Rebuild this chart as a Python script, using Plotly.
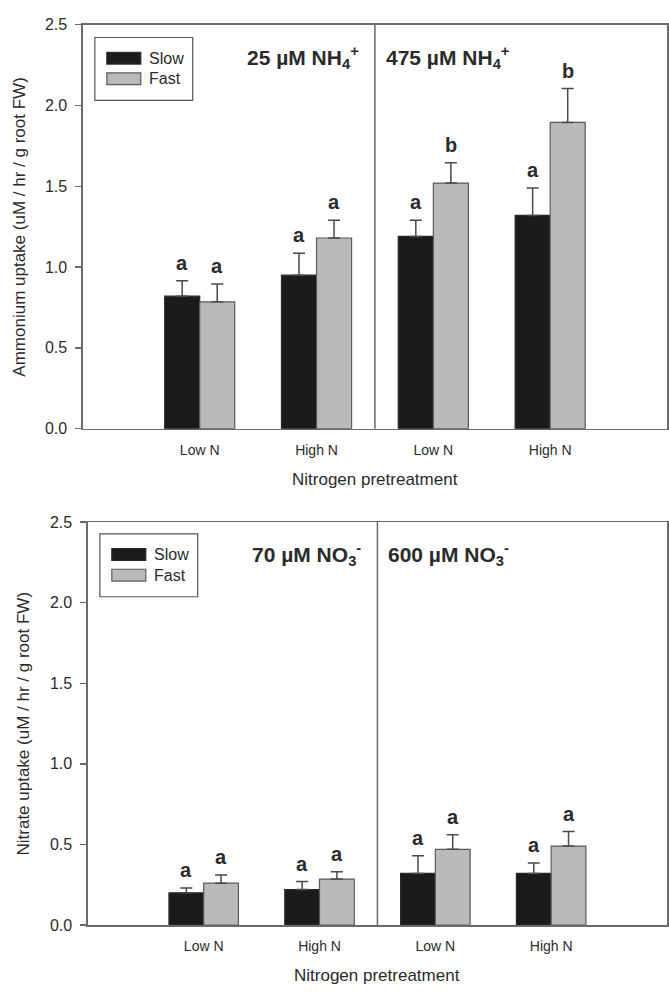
import plotly.graph_objects as go

# ---------------- data ----------------
categories = ["Low N", "High N", "Low N", "High N"]
series_names = ["Slow", "Fast"]

# Ammonium uptake (top panel)
nh4_slow = [0.82, 0.95, 1.19, 1.32]
nh4_slow_err = [0.095, 0.135, 0.10, 0.17]
nh4_fast = [0.785, 1.18, 1.52, 1.895]
nh4_fast_err = [0.11, 0.11, 0.125, 0.21]
nh4_slow_letters = ["a", "a", "a", "a"]
nh4_fast_letters = ["a", "a", "b", "b"]

# Nitrate uptake (bottom panel)
no3_slow = [0.20, 0.22, 0.32, 0.32]
no3_slow_err = [0.03, 0.05, 0.11, 0.065]
no3_fast = [0.26, 0.285, 0.47, 0.49]
no3_fast_err = [0.05, 0.045, 0.09, 0.09]
no3_slow_letters = ["a", "a", "a", "a"]
no3_fast_letters = ["a", "a", "a", "a"]

panel_labels_top = ["25 \u00b5M NH<sub>4</sub><sup>+</sup>", "475 \u00b5M NH<sub>4</sub><sup>+</sup>"]
panel_labels_bot = ["70 \u00b5M NO<sub>3</sub><sup>-</sup>", "600 \u00b5M NO<sub>3</sub><sup>-</sup>"]
y_titles = ["Ammonium uptake (uM / hr / g root FW)", "Nitrate uptake (uM / hr / g root FW)"]
x_title = "Nitrogen pretreatment"
y_ticks = [0.0, 0.5, 1.0, 1.5, 2.0, 2.5]

# ---------------- style ----------------
FONT = "Liberation Sans, Arial, Helvetica, sans-serif"
SLOW_FILL = "#1c1a1b"
SLOW_LINE = "#2a2a2a"
FAST_FILL = "#b9babc"
FAST_LINE = "#5a5a5a"
AXIS = "#6a6a6a"
TXT = "#2b2b2b"
ERR = "#4a4a4a"
FILLS = {"Slow": (SLOW_FILL, SLOW_LINE), "Fast": (FAST_FILL, FAST_LINE)}

W, H = 669, 994
positions = [i + 1 for i in range(len(categories))]

fig = go.Figure()

def add_panel(slow, slow_err, fast, fast_err, xa, ya):
    for name, vals, errs in [("Slow", slow, slow_err), ("Fast", fast, fast_err)]:
        fill, line = FILLS[name]
        fig.add_trace(go.Bar(
            x=positions, y=vals, name=name, showlegend=False,
            marker=dict(color=fill, line=dict(color=line, width=1.2)),
            error_y=dict(type="data", symmetric=False, array=errs,
                         arrayminus=[0] * len(errs), color=ERR,
                         thickness=1.5, width=6),
            xaxis=xa, yaxis=ya,
        ))

add_panel(nh4_slow, nh4_slow_err, nh4_fast, nh4_fast_err, "x", "y")
add_panel(no3_slow, no3_slow_err, no3_fast, no3_fast_err, "x2", "y2")

# panel geometry (pixels)
top_px = dict(x0=83, x1=668, y0=17, y1=428)
bot_px = dict(x0=88, x1=668, y0=523, y1=933)

def dom_x(p):
    return [p["x0"] / W, p["x1"] / W]

def dom_y(p):
    return [1 - p["y1"] / H, 1 - p["y0"] / H]

def px_x(v):
    return v / W

def px_y(v):
    return 1 - v / H

xaxis_common = dict(
    range=[0, 5], tickvals=positions, ticktext=categories,
    showline=True, linecolor=AXIS, linewidth=1.5, mirror=True,
    ticks="", showgrid=False, zeroline=False,
    tickfont=dict(family=FONT, size=14, color=TXT),
    ticklabelstandoff=8,
)
yaxis_common = dict(
    range=[0, 2.5], tickvals=y_ticks, tickformat=".1f",
    showline=True, linecolor=AXIS, linewidth=1.5, mirror=True,
    ticks="outside", ticklen=6, tickcolor=AXIS, tickwidth=1.5,
    showgrid=False, zeroline=False,
    tickfont=dict(family=FONT, size=16, color=TXT),
    ticklabelstandoff=5,
)

fig.update_layout(
    width=W, height=H,
    margin=dict(l=0, r=0, t=0, b=0),
    paper_bgcolor="white", plot_bgcolor="white",
    barmode="group", bargap=0.4, bargroupgap=0,
    xaxis=dict(domain=dom_x(top_px), anchor="y", **xaxis_common),
    yaxis=dict(domain=dom_y(top_px), anchor="x", **yaxis_common),
    xaxis2=dict(domain=dom_x(bot_px), anchor="y2", **xaxis_common),
    yaxis2=dict(domain=dom_y(bot_px), anchor="x2", **yaxis_common),
    showlegend=False,
    hovermode=False,
)

# divider lines between the two concentrations
for xr, yr in [("x", "y"), ("x2", "y2")]:
    fig.add_shape(type="line", xref=xr, yref=yr, x0=2.5, x1=2.5, y0=0, y1=2.5,
                  line=dict(color=AXIS, width=1.5))

annos = []

# legend boxes (drawn keys)
for (bx0, by0) in [(95, 30), (100, 535)]:
    fig.add_shape(type="rect", xref="paper", yref="paper",
                  x0=px_x(bx0), x1=px_x(bx0 + 98), y0=px_y(by0 + 64), y1=px_y(by0),
                  line=dict(color="#555555", width=1.2), fillcolor="white")
    for k, name in enumerate(series_names):
        fill, line = FILLS[name]
        cy = by0 + 21 + k * 21
        fig.add_shape(type="rect", xref="paper", yref="paper",
                      x0=px_x(bx0 + 12), x1=px_x(bx0 + 46), y0=px_y(cy + 6), y1=px_y(cy - 6),
                      line=dict(color=line, width=1.2), fillcolor=fill)
        annos.append(dict(x=px_x(bx0 + 52), y=px_y(cy), xref="paper", yref="paper",
                          text=name, showarrow=False, xanchor="left", yanchor="middle",
                          font=dict(family=FONT, size=16, color=TXT)))

# significance letters
for xr, yr, sv, se, fv, fe, sl, fl in [
    ("x", "y", nh4_slow, nh4_slow_err, nh4_fast, nh4_fast_err, nh4_slow_letters, nh4_fast_letters),
    ("x2", "y2", no3_slow, no3_slow_err, no3_fast, no3_fast_err, no3_slow_letters, no3_fast_letters),
]:
    for i, p in enumerate(positions):
        for dx, v, e, letter in [(-0.15, sv[i], se[i], sl[i]), (0.15, fv[i], fe[i], fl[i])]:
            annos.append(dict(x=p + dx, y=v + e, xref=xr, yref=yr, text="<b>%s</b>" % letter,
                              showarrow=False, xanchor="center", yanchor="bottom", yshift=5,
                              font=dict(family=FONT, size=20, color=TXT)))

# concentration labels
for xr, yr, labels in [("x", "y", panel_labels_top), ("x2", "y2", panel_labels_bot)]:
    annos.append(dict(x=2.5, y=2.3, xref=xr, yref=yr, text="<b>%s</b>" % labels[0],
                      showarrow=False, xanchor="right", yanchor="middle", xshift=-14,
                      font=dict(family=FONT, size=21, color=TXT)))
    annos.append(dict(x=2.5, y=2.3, xref=xr, yref=yr, text="<b>%s</b>" % labels[1],
                      showarrow=False, xanchor="left", yanchor="middle", xshift=9,
                      font=dict(family=FONT, size=21, color=TXT)))

# axis titles
annos.append(dict(x=(top_px["x0"] + top_px["x1"]) / 2 / W, y=px_y(480), xref="paper", yref="paper",
                  text=x_title, showarrow=False, xanchor="center", yanchor="middle",
                  font=dict(family=FONT, size=17, color=TXT)))
annos.append(dict(x=(bot_px["x0"] + bot_px["x1"]) / 2 / W, y=px_y(984), xref="paper", yref="paper",
                  text=x_title, showarrow=False, xanchor="center", yanchor="middle",
                  font=dict(family=FONT, size=17, color=TXT)))
annos.append(dict(x=px_x(20), y=px_y((top_px["y0"] + top_px["y1"]) / 2), xref="paper", yref="paper",
                  text=y_titles[0], textangle=-90, showarrow=False, xanchor="center", yanchor="middle",
                  font=dict(family=FONT, size=17, color=TXT)))
annos.append(dict(x=px_x(24), y=px_y((bot_px["y0"] + bot_px["y1"]) / 2), xref="paper", yref="paper",
                  text=y_titles[1], textangle=-90, showarrow=False, xanchor="center", yanchor="middle",
                  font=dict(family=FONT, size=17, color=TXT)))

fig.update_layout(annotations=annos)
fig.write_html(
    "out.html",
    config={"displayModeBar": False, "staticPlot": True},
    post_script="document.body.style.margin='0';document.body.style.padding='0';"
                "document.body.style.height='994px';document.body.style.overflow='hidden';"
                "document.documentElement.style.overflow='hidden';",
)
